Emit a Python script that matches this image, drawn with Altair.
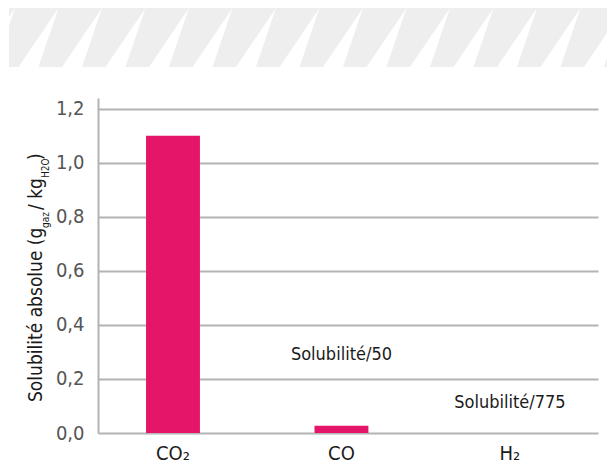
import altair as alt
import pandas as pd

# ---- data ----
gases = ["CO₂", "CO", "H₂"]
solubility = [1.10, 0.027, 0.0]

ann_gas = ["CO", "H₂"]
ann_text = ["Solubilité/50", "Solubilité/775"]
ann_y = [0.29, 0.11]

y_ticks = [0.0, 0.2, 0.4, 0.6, 0.8, 1.0, 1.2]

FONT = "DejaVu Sans Condensed, Roboto Condensed, Roboto, sans-serif"
PINK = "#e5166a"
GRID = "#b3b3b3"

W, H = 500, 335
PAD_L, PAD_T = 98, 98

bars_df = pd.DataFrame({"gas": gases, "value": solubility})
ann_df = pd.DataFrame({"gas": ann_gas, "text": ann_text, "y": ann_y})

xscale = alt.Scale(domain=gases, paddingInner=0.68, paddingOuter=0.324, align=0.44)
yscale = alt.Scale(domain=[0, 1.24], nice=False)

bars = alt.Chart(bars_df).mark_bar(color=PINK).encode(
    x=alt.X("gas:N", scale=xscale, sort=gases,
            axis=alt.Axis(title=None, labelAngle=0, domain=False, ticks=False,
                          labelPadding=10, labelFontSize=20, labelColor="#1a1a1a",
                          labelFont=FONT)),
    y=alt.Y("value:Q", scale=yscale,
            axis=alt.Axis(title=None, values=y_ticks, ticks=False, labelPadding=14,
                          labelFontSize=20, labelColor="#555555", labelFont=FONT,
                          labelExpr="replace(format(datum.value, '.1f'), '.', ',')",
                          grid=True, gridColor=GRID, gridWidth=2,
                          domain=True, domainColor=GRID, domainWidth=2)),
)

ann = alt.Chart(ann_df).mark_text(font=FONT, fontSize=18, color="#1a1a1a",
                                  align="center", baseline="middle").encode(
    x=alt.X("gas:N", scale=xscale, sort=gases),
    y=alt.Y("y:Q", scale=yscale),
    text="text:N",
)

# ---- decorative striped header band ----
band = alt.Chart(pd.DataFrame({"a": [0]})).mark_rect(color="#eeeeee").encode(
    x=alt.value(9 - PAD_L), x2=alt.value(607 - PAD_L + 5),
    y=alt.value(8 - PAD_T), y2=alt.value(67 - PAD_T),
)

rows = []
for k in range(16):
    a = 15 + 43.5 * k - PAD_L
    rows.append({"w": k, "py": 8 - PAD_T, "px": a, "px2": a})
    rows.append({"w": k, "py": 67 - PAD_T, "px": a - 40, "px2": a - 20})
wedges = alt.Chart(pd.DataFrame(rows)).mark_area(orient="horizontal", color="white").encode(
    y=alt.Y("py:Q", scale=None, axis=None),
    x=alt.X("px:Q", scale=None, axis=None),
    x2="px2:Q",
    detail="w:N",
)
cover = alt.Chart(pd.DataFrame({"a": [0]})).mark_rect(color="white").encode(
    x=alt.value(-PAD_L), x2=alt.value(9 - PAD_L),
    y=alt.value(0 - PAD_T), y2=alt.value(75 - PAD_T),
)

# ---- y title with subscripts ----
def piece(txt, x_abs, y_abs, size):
    return alt.Chart(pd.DataFrame({"a": [0]})).mark_text(
        text=txt, font=FONT, fontSize=size, color="#1a1a1a", angle=270,
        align="left", baseline="alphabetic").encode(
        x=alt.value(x_abs - PAD_L), y=alt.value(y_abs - PAD_T))

title_layers = [
    piece("Solubilité absolue (g", 42, 402, 19),
    piece("gaz", 49, 228, 10),
    piece("/ kg", 42, 210, 19),
    piece("H2O", 49, 178, 10),
    piece(")", 42, 160, 19),
]

chart = alt.layer(band, wedges, cover, bars, ann, *title_layers).properties(
    width=W, height=H,
    autosize=alt.AutoSizeParams(type="none"),
    padding={"left": PAD_L, "top": PAD_T, "right": 607 - PAD_L - W, "bottom": 468 - PAD_T - H},
    background="white",
).configure_view(stroke=None)

chart.save("out.html", embed_options={"renderer": "svg", "actions": False})
